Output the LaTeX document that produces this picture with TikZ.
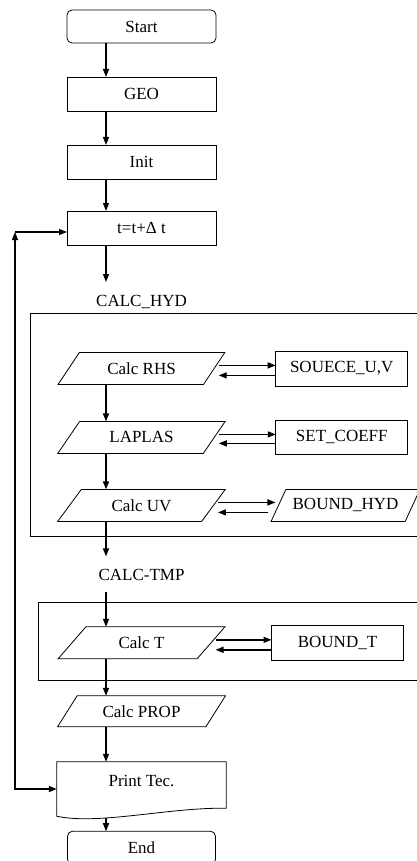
\documentclass[tikz,border=0pt]{standalone}
\usepackage{fontspec}
\setmainfont{Liberation Serif}
\usetikzlibrary{arrows.meta, shapes.geometric, positioning, calc}

\begin{document}
\begin{tikzpicture}[
      x=1pt, y=1pt,
      font=\fontsize{17}{20}\selectfont,
      >={Triangle[length=8pt, width=6pt]},
      base/.style={draw, line width=0.8pt, inner sep=2pt, outer sep=0pt},
      term/.style={base, rounded corners=5pt,
                   minimum width=149pt, minimum height=33pt},
      proc/.style={base, minimum width=149pt, minimum height=34pt},
      sub/.style={base, minimum width=132pt, minimum height=35pt},
      io/.style={base, trapezium, trapezium left angle=52,
                 trapezium right angle=128, trapezium stretches=true,
                 minimum width=168pt, minimum height=32pt},
      frame/.style={draw, line width=0.8pt, anchor=north west, inner sep=0pt},
      tag/.style={inner sep=0pt, text height=12pt, text depth=2pt},
      flow/.style={->, line width=1.4pt}
    ]
    \useasboundingbox (0,0) rectangle (416,-861);

    % main column
    \node[term] (start) at (141.5,-26.5) {Start};
    \node[proc, below=34pt of start] (geo) {GEO};
    \node[proc, below=34pt of geo] (init) {Init};
    \node[proc, below=32pt of init] (tstep) {t=t+Δ t};

    \node[tag, below=49pt of tstep] (hydlbl) {CALC\_HYD};
    \node[frame, minimum width=387pt, minimum height=223pt]
          (hydbox) at (30,-313) {};
    \node[io, below=44pt of hydlbl] (rhs) {Calc RHS};
    \node[io, below=37pt of rhs] (laplas) {LAPLAS};
    \node[io, below=36pt of laplas] (calcuv) {Calc UV};
    \node[sub, right=61.5pt of rhs] (souce) {SOUECE\_U,V};
    \node[sub, minimum height=34pt, right=61.5pt of laplas] (setcoeff) {SET\_COEFF};
    \node[io, minimum width=149pt, right=65pt of calcuv] (boundhyd) {BOUND\_HYD};

    \node[tag, below=47pt of calcuv] (tmplbl) {CALC-TMP};
    \node[frame, minimum width=379pt, minimum height=78pt]
          (tmpbox) at (38,-602) {};
    \node[io, below=44pt of tmplbl] (calct) {Calc T};
    \node[sub, right=60.5pt of calct] (boundt) {BOUND\_T};
    \node[io, minimum height=31pt, below=37pt of calct] (calcprop) {Calc PROP};

    \node[inner sep=2pt, minimum width=169pt, minimum height=46pt,
          text height=12pt, text depth=9pt, below=35pt of calcprop]
          (print) {Print Tec.};
    \draw[line width=0.8pt] (print.south west) -- (print.north west)
          -- (print.north east) -- (print.south east)
          .. controls ([shift={(-57pt,1pt)}]print.south east)
          and ([shift={(42pt,-17pt)}]print.south west)
          .. ([yshift=-8pt]print.south west) -- cycle;
    \node[term, minimum width=148pt, below=23pt of print] (end) {End};

    \coordinate (ax) at (106,0);
    \draw[flow] (start.south -| ax) -- (geo.north -| ax);
    \draw[flow] (geo.south -| ax) -- (init.north -| ax);
    \draw[flow] (init.south -| ax) -- (tstep.north -| ax);
    \draw[flow] (tstep.south -| ax) -- ($(hydlbl.north -| ax)+(0,12)$);
    \draw[flow] (rhs.south -| ax) -- (laplas.north -| ax);
    \draw[flow] (laplas.south -| ax) -- (calcuv.north -| ax);
    \draw[flow] (calcuv.south -| ax) -- ($(tmplbl.north -| ax)+(0,12)$);
    \draw[flow] ($(tmplbl.south -| ax)+(0,-9)$) -- (calct.north -| ax);
    \draw[flow] (calct.south -| ax) -- (calcprop.north -| ax);
    \draw[flow] (calcprop.south -| ax) -- (print.north -| ax);
    \draw[flow] ($(print.south -| ax)+(0,-10)$) -- (end.north -| ax);

    \draw[flow] ([shift={(4.5pt,3pt)}]rhs.east) -- ([yshift=3pt]souce.west);
    \draw[flow] ([yshift=-7pt]souce.west) -- ([shift={(4.5pt,-7pt)}]rhs.east);
    \draw[flow] ([shift={(4.5pt,3pt)}]laplas.east) -- ([yshift=3pt]setcoeff.west);
    \draw[flow] ([yshift=-6pt]setcoeff.west) -- ([shift={(4.5pt,-6pt)}]laplas.east);
    \draw[flow] ([shift={(4.5pt,3pt)}]calcuv.east) -- ([shift={(-3pt,3pt)}]boundhyd.west);
    \draw[flow] ([shift={(-10pt,-7pt)}]boundhyd.west) -- ([shift={(4.5pt,-7pt)}]calcuv.east);
    \draw[flow] ([shift={(4.5pt,3pt)}]calct.east) -- ([yshift=3pt]boundt.west);
    \draw[flow] ([yshift=-7pt]boundt.west) -- ([shift={(4.5pt,-7pt)}]calct.east);

    % loop back to the time step
    \coordinate (looptop) at (15,-232);
    \coordinate (loopbot) at (15,-789);
    \draw[line width=1.4pt, <->] (looptop) -- (loopbot) -- (loopbot -| print.west);
    \draw[flow] (looptop) -- (looptop -| tstep.west);
  \end{tikzpicture}
\end{document}
